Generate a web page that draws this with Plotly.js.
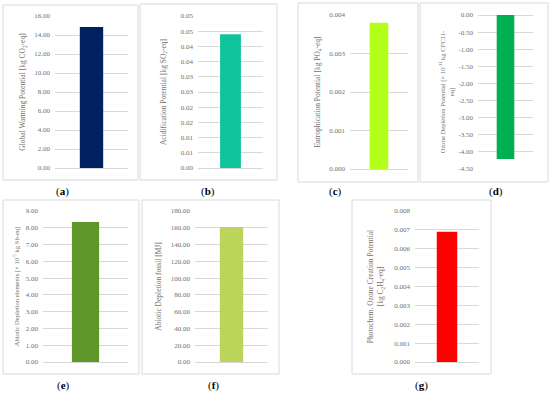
<!DOCTYPE html>
<html>
<head>
<meta charset="utf-8">
<script src="https://cdn.plot.ly/plotly-3.0.1.min.js"></script>
<style>html,body{margin:0;padding:0;background:#fff;}#chart{width:550px;height:395px;}</style>
</head>
<body>
<div id="chart"></div>
<script>
// ---- data ----
const categories = ['Product'];
const gwp  = [14.85];   // kg CO2-eq
const ap   = [0.044];   // kg SO2-eq
const ep   = [0.0038];  // kg PO4-eq
const odp  = [-4.21];   // x10^-11 kg CFC11-eq
const adpe = [8.34];    // x10^-5 kg Sb-eq
const adpf = [161];     // MJ
const pocp = [0.0069];  // kg C2H4-eq

const apTickVals = [0, 0.005, 0.01, 0.015, 0.02, 0.025, 0.03, 0.035, 0.04, 0.045, 0.05];
const apTickText = ['0.00','0.01','0.01','0.02','0.02','0.03','0.03','0.04','0.04','0.05','0.05'];
const odpTickVals = [0, -0.5, -1, -1.5, -2, -2.5, -3, -3.5, -4, -4.5];
const odpTickText = ['0.00','-0.50','-1.00','-1.50','-2.00','-2.50','-3.00','-3.50','-4.00','-4.50'];

const panelLabels = ['a','b','c','d','e','f','g'];
const yTitles = [
  'Global Warming Potential [kg CO<sub>2</sub>-eq]',
  'Acidification Potential [kg SO<sub>2</sub>-eq]',
  'Eutrophication Potential [kg PO<sub>4</sub>-eq]',
  'Ozone Depletion Potential [× 10<sup>-11</sup> kg CFC11-<br>eq]',
  'Abiotic Depletion elements [× 10<sup>-5</sup> kg Sb-eq]',
  'Abiotic Depletion fossil [MJ]',
  'Photochem. Ozone Creation Potential<br>[kg C<sub>2</sub>H<sub>4</sub>-eq]'
];
const colors = ['#002060','#0FC39B','#B3FF1A','#00B050','#5E9628','#BBD45A','#FF0000'];
const series = [gwp, ap, ep, odp, adpe, adpf, pocp];

// ---- layout geometry (pixels) ----
const W = 550, H = 395;
const px = v => v / W;
const py = v => 1 - v / H;
// plot areas: [x0, x1, yTop, yBottom]
const areas = [
  [55, 128, 16, 168],
  [198, 263, 16, 168],
  [350, 408, 15, 169],
  [478, 533, 15, 169],
  [43, 128, 211, 362],
  [195, 268, 211, 362],
  [415, 479, 211, 362]
];
const boxes = [
  [3, 138, 5, 180],
  [140, 277, 4, 180],
  [298, 418, 3, 182],
  [420, 548, 3, 182],
  [3, 139, 200, 374],
  [142, 279, 200, 374],
  [352, 491, 200, 374]
];
const titleSize = [7.5, 7.5, 7.5, 6.6, 6.6, 7.5, 7.5];
const titleStandoff = [7, 13, 7, 3, 5, 8, 9];
const labelPos = [[62, 192], [208, 192], [335, 191], [496, 191], [63, 385], [213, 385], [422, 385]];

const yConf = [
  {range: [0, 16], dtick: 2, tickformat: '.2f'},
  {range: [0, 0.05], tickvals: apTickVals, ticktext: apTickText},
  {range: [0, 0.004], dtick: 0.001, tickformat: '.3f'},
  {range: [-4.5, 0], tickvals: odpTickVals, ticktext: odpTickText},
  {range: [0, 9], dtick: 1, tickformat: '.2f'},
  {range: [0, 180], dtick: 20, tickformat: '.2f'},
  {range: [0, 0.008], dtick: 0.001, tickformat: '.3f'}
];

const font = 'Liberation Serif, DejaVu Serif, serif';
const grey = '#707070';
const data = [];
const layout = {
  width: W, height: H,
  margin: {l: 0, r: 0, t: 0, b: 0},
  paper_bgcolor: '#ffffff', plot_bgcolor: '#ffffff',
  showlegend: false,
  bargap: 0.68,
  font: {family: font, color: grey, size: 7},
  shapes: [], annotations: []
};

series.forEach((vals, i) => {
  const n = i + 1;
  const sfx = n === 1 ? '' : String(n);
  data.push({
    type: 'bar', x: categories, y: vals,
    xaxis: 'x' + sfx, yaxis: 'y' + sfx,
    marker: {color: colors[i]}, hoverinfo: 'y'
  });
  const a = areas[i];
  layout['xaxis' + sfx] = {
    domain: [px(a[0]), px(a[1])], anchor: 'y' + sfx,
    type: 'category', showticklabels: false, showgrid: false, zeroline: false, showline: false, fixedrange: true
  };
  layout['yaxis' + sfx] = Object.assign({
    domain: [py(a[3]), py(a[2])], anchor: 'x' + sfx,
    showgrid: true, gridcolor: '#D9D9D9', gridwidth: 1,
    zeroline: true, zerolinecolor: '#D9D9D9', zerolinewidth: 1,
    showline: false, ticks: '', ticklabelstandoff: 4,
    tickfont: {family: font, size: 7, color: grey},
    title: {text: yTitles[i], standoff: titleStandoff[i], font: {family: font, size: titleSize[i], color: grey}},
    automargin: false,
    fixedrange: true
  }, yConf[i]);
  const b = boxes[i];
  layout.shapes.push({
    type: 'rect', xref: 'paper', yref: 'paper',
    x0: px(b[0]), x1: px(b[1]), y0: py(b[3]), y1: py(b[2]),
    line: {color: '#D9D9D9', width: 1}, fillcolor: 'rgba(0,0,0,0)', layer: 'below'
  });
  layout.annotations.push({
    xref: 'paper', yref: 'paper', x: px(labelPos[i][0]), y: py(labelPos[i][1]),
    text: '(<b>' + panelLabels[i] + '</b>)', showarrow: false,
    xanchor: 'center', yanchor: 'middle',
    font: {family: font, size: 11, color: '#000000'}
  });
});

Plotly.newPlot('chart', data, layout, {displayModeBar: false});
</script>
</body>
</html>
